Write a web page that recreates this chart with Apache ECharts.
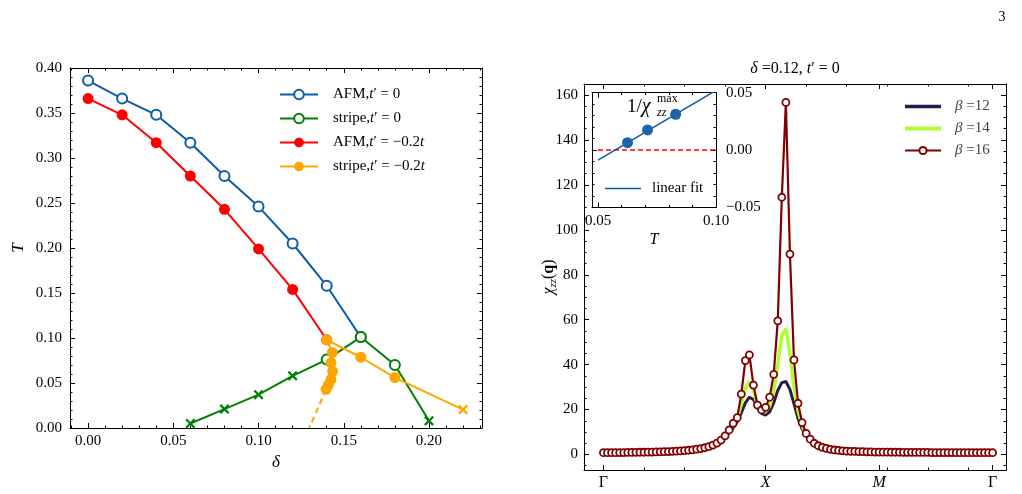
<!DOCTYPE html>
<html>
<head>
<meta charset="utf-8">
<script src="https://cdn.jsdelivr.net/npm/echarts@6/dist/echarts.min.js"></script>
<style>
  html, body { margin: 0; padding: 0; background: #fff; }
  #chart { width: 1022px; height: 494px; }
</style>
</head>
<body>
<div id="chart"></div>
<script>
// ---- left panel: T vs delta ----
const afm0Delta = [0, 0.02, 0.04, 0.06, 0.08, 0.10, 0.12, 0.14, 0.16];
const afm0T = [0.386, 0.366, 0.348, 0.317, 0.280, 0.246, 0.205, 0.158, 0.101];
const stripe0Delta = [0.06, 0.08, 0.10, 0.12, 0.14, 0.16, 0.18, 0.20];
const stripe0T = [0.005, 0.021, 0.037, 0.058, 0.076, 0.101, 0.070, 0.008];
const stripe0Cross = [true, true, true, true, false, false, false, true];
const afm2Delta = [0, 0.02, 0.04, 0.06, 0.08, 0.10, 0.12, 0.14];
const afm2T = [0.366, 0.348, 0.317, 0.280, 0.243, 0.199, 0.154, 0.098];
const stripe2Delta = [0.1396, 0.141, 0.1425, 0.1435, 0.1425, 0.1433, 0.14, 0.16, 0.18, 0.22];
const stripe2T = [0.043, 0.048, 0.054, 0.063, 0.0726, 0.084, 0.098, 0.0786, 0.056, 0.0205];
const stripe2Cross = [false, false, false, false, false, false, false, false, false, true];
const stripe2ExtDelta = [0.1396, 0.1298];
const stripe2ExtT = [0.043, 0];

const leftXTicks = [0, 0.05, 0.10, 0.15, 0.20];
const leftYTicks = [0, 0.05, 0.10, 0.15, 0.20, 0.25, 0.30, 0.35, 0.40];

// ---- right panel: chi_zz(q) along Gamma-X-M-Gamma ----
const beta12 = [0.8, 0.8, 0.8, 0.8, 0.85, 0.85, 0.9, 0.9, 0.95, 1.0, 1.0, 1.05, 1.1, 1.15, 1.2, 1.25, 1.3, 1.4, 1.5, 1.6,
  1.7, 1.85, 2.05, 2.3, 2.6, 2.9, 3.4, 4.0, 4.9, 6.0, 7.7, 9.6, 11.8, 14.5, 18.5, 23.0, 25.5, 24.5, 21.0, 18.3,
  17.5, 19.0, 23.0, 28.5, 32.0, 32.5, 29.0, 22.5, 16.0, 11.5, 8.3, 6.2, 4.7, 3.7, 3.0, 2.5, 2.15, 1.9, 1.7, 1.55,
  1.45, 1.35, 1.3, 1.25, 1.2, 1.15, 1.1, 1.05, 1.05, 1.0, 1.0, 1.0, 0.95, 0.95, 0.95, 0.9, 0.9, 0.9, 0.9, 0.9,
  0.85, 0.85, 0.85, 0.85, 0.85, 0.85, 0.8, 0.8, 0.8, 0.8, 0.8, 0.8, 0.8, 0.8, 0.8, 0.8, 0.8];
const beta14 = [0.8, 0.8, 0.8, 0.8, 0.85, 0.85, 0.9, 0.9, 0.95, 1.0, 1.0, 1.05, 1.1, 1.15, 1.2, 1.25, 1.3, 1.4, 1.5, 1.6,
  1.75, 1.9, 2.1, 2.35, 2.65, 3.0, 3.5, 4.1, 5.0, 6.2, 8.0, 10.4, 13.0, 16.0, 22.5, 29.5, 32.5, 28.5, 22.0, 19.0,
  19.0, 21.5, 28.0, 40.0, 53.0, 56.0, 45.0, 30.0, 19.5, 13.0, 9.0, 6.6, 4.9, 3.8, 3.1, 2.6, 2.2, 1.95, 1.75, 1.6,
  1.5, 1.4, 1.35, 1.3, 1.25, 1.2, 1.15, 1.1, 1.1, 1.05, 1.05, 1.0, 1.0, 1.0, 0.95, 0.95, 0.95, 0.9, 0.9, 0.9,
  0.9, 0.85, 0.85, 0.85, 0.85, 0.85, 0.85, 0.8, 0.8, 0.8, 0.8, 0.8, 0.8, 0.8, 0.8, 0.8, 0.8];
const beta16 = [0.8, 0.8, 0.8, 0.8, 0.85, 0.85, 0.9, 0.9, 0.95, 1.0, 1.0, 1.05, 1.1, 1.15, 1.2, 1.25, 1.3, 1.4, 1.5, 1.6,
  1.75, 1.9, 2.1, 2.35, 2.65, 3.0, 3.5, 4.2, 5.1, 6.4, 8.3, 10.9, 13.9, 16.4, 26.9, 41.8, 44.3, 30.9, 22.0, 19.8,
  21.0, 25.5, 35.7, 59.5, 114.5, 156.7, 89.2, 42.1, 22.8, 14.2, 9.4, 6.8, 5.0, 3.9, 3.2, 2.7, 2.3, 2.0, 1.8, 1.65,
  1.5, 1.4, 1.35, 1.3, 1.25, 1.2, 1.15, 1.1, 1.1, 1.05, 1.05, 1.0, 1.0, 1.0, 0.95, 0.95, 0.95, 0.9, 0.9, 0.9,
  0.9, 0.85, 0.85, 0.85, 0.85, 0.85, 0.85, 0.8, 0.8, 0.8, 0.8, 0.8, 0.8, 0.8, 0.8, 0.8, 0.8];
const kTickPos = [0, 40, 68, 96];
const kTickLabels = ['Γ', '{i|X}', '{i|M}', 'Γ'];
const chiTicks = [0, 20, 40, 60, 80, 100, 120, 140, 160];

// ---- inset: 1/chi_max vs T ----
const insetT = [0.0625, 0.0710, 0.0829];
const insetInvChi = [0.0064, 0.0175, 0.0312];
const fitT = [0.05, 0.10];
const fitInvChi = [-0.0088, 0.0520];
const insetXTicks = [0.05, 0.10];
const insetYTicks = [-0.05, 0, 0.05];

const FONT = 'Liberation Serif';
const BLUE = '#0C5DA5', GREEN = '#008000', RED = '#ff0000', ORANGE = '#ffa500';
const CROSS = 'path://M0,1.6L1.6,0L5,3.4L8.4,0L10,1.6L6.6,5L10,8.4L8.4,10L5,6.6L1.6,10L0,8.4L3.4,5Z';
const BAR = w => 'path://M0,0H40V' + w + 'H0Z';   // plain line legend icon
const italic = {fontFamily: FONT, fontSize: 15, fontStyle: 'italic', color: '#000'};

function steps(a, b, s, skip) {
  const out = [];
  for (let v = a; v <= b + 1e-9; v += s) {
    const r = Math.round(v * 1e6) / 1e6;
    if (!skip.some(t => Math.abs(t - r) < 1e-9)) out.push(r);
  }
  return out;
}
const fmt2 = v => (v < 0 ? '−' : '') + Math.abs(v).toFixed(2);

// four axes per dimension: labelled side + mirrored side, major and minor ticks
function frame(dim, grid, min, max, major, minor, labelSide, label, extra) {
  const sides = dim === 'x' ? ['bottom', 'top'] : ['left', 'right'];
  const other = sides[0] === labelSide ? sides[1] : sides[0];
  const ax = (side, ticks, len, line, lab) => ({
    type: 'value', gridIndex: grid, min: min, max: max, position: side,
    splitLine: {show: false},
    axisLine: {show: line, onZero: false, lineStyle: {color: '#000', width: 1}},
    axisTick: {show: true, inside: true, length: len, customValues: ticks.filter(t => t >= min && t <= max),
      lineStyle: {color: '#000', width: 1}},
    axisLabel: lab ? Object.assign({show: true, customValues: major, fontFamily: FONT, fontSize: 15, color: '#000'}, lab)
      : {show: false}
  });
  return [
    Object.assign(ax(labelSide, major, 5, true, label), extra || {}),
    ax(labelSide, minor, 2.5, false, null),
    ax(other, major, 5, true, null),
    ax(other, minor, 2.5, false, null)
  ];
}

const pts = (xs, ys) => xs.map((x, i) => [x, ys[i]]);
const marked = (xs, ys, flags, color) => xs.map((x, i) => flags[i]
  ? {value: [x, ys[i]], symbol: CROSS, symbolSize: 10, itemStyle: {color: color, borderWidth: 0}}
  : [x, ys[i]]);
const kData = ys => ys.map((v, i) => [i, v]);

const xAxes = [].concat(
  frame('x', 0, -0.0106, 0.2311, leftXTicks, steps(-0.01, 0.23, 0.01, leftXTicks), 'bottom',
    {margin: 6, formatter: fmt2},
    {name: 'δ', nameLocation: 'middle', nameGap: 26, nameTextStyle: {fontFamily: FONT, fontSize: 17, fontStyle: 'italic', color: '#000'}}),
  frame('x', 1, -4.8, 99.3, kTickPos, steps(0, 90, 10, kTickPos), 'bottom',
    {margin: 5, fontSize: 16, formatter: v => kTickLabels[kTickPos.indexOf(Math.round(v))], rich: {i: Object.assign({}, italic, {fontSize: 16})}}),
  frame('x', 2, 0.04745, 0.10, insetXTicks, steps(0.05, 0.10, 0.01, insetXTicks), 'bottom',
    {margin: 6, formatter: fmt2},
    {name: 'T', nameLocation: 'middle', nameGap: 24, nameTextStyle: {fontFamily: FONT, fontSize: 16, fontStyle: 'italic', color: '#000'}})
);
const yAxes = [].concat(
  frame('y', 0, 0, 0.4, leftYTicks, steps(0, 0.4, 0.01, leftYTicks), 'left',
    {margin: 8, formatter: fmt2},
    {name: 'T', nameLocation: 'middle', nameGap: 43, nameRotate: 90, nameTextStyle: {fontFamily: FONT, fontSize: 17, fontStyle: 'italic', color: '#000'}}),
  frame('y', 1, -6.9, 164.9, chiTicks, steps(-5, 165, 5, chiTicks), 'left',
    {margin: 6, formatter: v => String(v)},
    {name: '{i|χ}{s|zz}({b|q})', nameLocation: 'middle', nameGap: 25, nameRotate: 90, nameMoveOverlap: false,
      nameTextStyle: {fontFamily: FONT, fontSize: 16, color: '#000', rich: {
        i: {fontFamily: FONT, fontSize: 16, fontStyle: 'italic', color: '#000', lineHeight: 20},
        s: {fontFamily: FONT, fontSize: 11, fontStyle: 'italic', color: '#000', verticalAlign: 'bottom', lineHeight: 20, padding: [8, 0, 0, 0]},
        b: {fontFamily: FONT, fontSize: 16, fontWeight: 'bold', color: '#000', lineHeight: 20}}}}),
  frame('y', 2, -0.05, 0.05, insetYTicks, steps(-0.05, 0.05, 0.01, insetYTicks), 'right',
    {margin: 10, formatter: fmt2})
);

const leftNames = {
  'AFM,t′ = 0': 'AFM,{i|t}′ = 0',
  'stripe,t′ = 0': 'stripe,{i|t}′ = 0',
  'AFM,t′ = −0.2t': 'AFM,{i|t}′ = −0.2{i|t}',
  'stripe,t′ = −0.2t': 'stripe,{i|t}′ = −0.2{i|t}'
};
const betaNames = ['β =12', 'β =14', 'β =16'];

const option = {
  animation: false,
  backgroundColor: '#fff',
  grid: [
    {left: 70, right: 540, top: 68, bottom: 66, outerBoundsMode: 'none'},
    {left: 584, right: 16, top: 84, bottom: 24, outerBoundsMode: 'none'},
    {left: 592, width: 124, top: 92.7, height: 114.6, show: true, backgroundColor: '#fff', borderWidth: 0, z: 3, outerBoundsMode: 'none'}
  ],
  xAxis: xAxes.map((a, i) => i >= 8 ? Object.assign(a, {z: 4}) : a),
  yAxis: yAxes.map((a, i) => i >= 8 ? Object.assign(a, {z: 4}) : a),
  legend: [
    {data: Object.keys(leftNames), orient: 'vertical', left: 274, top: 81, itemWidth: 38, itemHeight: 12,
      itemGap: 7, formatter: n => leftNames[n],
      textStyle: {fontFamily: FONT, fontSize: 15, color: '#000', lineHeight: 17, padding: [0, 0, 0, 10], rich: {i: italic}}},
    {data: [{name: betaNames[0], icon: BAR(4)}, {name: betaNames[1], icon: BAR(4.4)}, betaNames[2]],
      orient: 'vertical', left: 899, top: 93, itemWidth: 36, itemHeight: 9,
      itemGap: 5, formatter: n => '{i|β}' + n.slice(1),
      textStyle: {fontFamily: FONT, fontSize: 15, color: '#444', lineHeight: 17, padding: [0, 0, 0, 9],
        rich: {i: Object.assign({}, italic, {color: '#444'})}}},
    {data: [{name: 'linear fit', icon: BAR(1.8)}], orient: 'vertical', left: 600, top: 176, itemWidth: 36, itemHeight: 10, z: 5,
      textStyle: {fontFamily: FONT, fontSize: 15, color: '#000', padding: [0, 0, 0, 6]}}
  ],
  series: [
    {name: 'AFM,t′ = 0', type: 'line', xAxisIndex: 0, yAxisIndex: 0, data: pts(afm0Delta, afm0T),
      symbol: 'circle', symbolSize: 10, lineStyle: {color: BLUE, width: 2},
      itemStyle: {color: '#fff', borderColor: BLUE, borderWidth: 2}},
    {name: 'stripe,t′ = 0', type: 'line', xAxisIndex: 0, yAxisIndex: 0, data: marked(stripe0Delta, stripe0T, stripe0Cross, GREEN),
      symbol: 'circle', symbolSize: 10, lineStyle: {color: GREEN, width: 2},
      itemStyle: {color: '#fff', borderColor: GREEN, borderWidth: 2}},
    {name: 'AFM,t′ = −0.2t', type: 'line', xAxisIndex: 0, yAxisIndex: 0, data: pts(afm2Delta, afm2T),
      symbol: 'circle', symbolSize: 11, lineStyle: {color: RED, width: 2}, itemStyle: {color: RED}},
    {name: 'stripe,t′ = −0.2t', type: 'line', xAxisIndex: 0, yAxisIndex: 0, data: marked(stripe2Delta, stripe2T, stripe2Cross, ORANGE),
      symbol: 'circle', symbolSize: 11, lineStyle: {color: ORANGE, width: 2}, itemStyle: {color: ORANGE}},
    {name: 'stripe extrapolation', type: 'line', xAxisIndex: 0, yAxisIndex: 0, data: pts(stripe2ExtDelta, stripe2ExtT),
      symbol: 'none', lineStyle: {color: ORANGE, width: 2, type: [6, 4]}},

    {name: 'β =12', type: 'line', xAxisIndex: 4, yAxisIndex: 4, data: kData(beta12),
      symbol: 'none', lineStyle: {color: '#2c1b47', width: 3}, itemStyle: {color: '#2c1b47'}},
    {name: 'β =14', type: 'line', xAxisIndex: 4, yAxisIndex: 4, data: kData(beta14),
      symbol: 'none', lineStyle: {color: '#adff2f', width: 3.5}, itemStyle: {color: '#adff2f'}},
    {name: 'β =16', type: 'line', xAxisIndex: 4, yAxisIndex: 4, data: kData(beta16),
      symbol: 'circle', symbolSize: 7, lineStyle: {color: '#800000', width: 2.2},
      itemStyle: {color: '#fff', borderColor: '#800000', borderWidth: 1.8}},

    {name: 'zero', type: 'line', xAxisIndex: 8, yAxisIndex: 8, data: [[0.05, 0], [0.10, 0]], z: 6,
      symbol: 'none', lineStyle: {color: RED, width: 1.5, type: [5, 3]}},
    {name: 'linear fit', type: 'line', xAxisIndex: 8, yAxisIndex: 8, data: pts(fitT, fitInvChi), z: 6,
      symbol: 'none', lineStyle: {color: BLUE, width: 1.5}, itemStyle: {color: BLUE}},
    {name: 'inv chi max', type: 'line', xAxisIndex: 8, yAxisIndex: 8, data: pts(insetT, insetInvChi), z: 7,
      symbol: 'circle', symbolSize: 11, lineStyle: {width: 0}, itemStyle: {color: '#1f63a8'}}
  ],
  graphic: [
    {type: 'text', x: 1002, y: 17, style: {text: '3', font: '14px "Liberation Serif"', fill: '#000', align: 'center', verticalAlign: 'middle'}},
    {type: 'text', x: 795, y: 69, style: {text: '{i|δ} =0.12, {i|t}′ = 0', font: '16px "Liberation Serif"', fill: '#000',
      align: 'center', verticalAlign: 'middle', rich: {i: {fontFamily: FONT, fontSize: 16, fontStyle: 'italic', fill: '#000'}}}},
    {type: 'text', x: 627, y: 107, z: 5, style: {text: '1/{i|χ}', font: '19px "Liberation Serif"', fill: '#000', verticalAlign: 'middle',
      rich: {i: {fontFamily: FONT, fontSize: 20, fontStyle: 'italic', fill: '#000'}}}},
    {type: 'text', x: 657, y: 99, z: 5, style: {text: 'max', font: '12px "Liberation Serif"', fill: '#000', verticalAlign: 'middle'}},
    {type: 'text', x: 657, y: 113, z: 5, style: {text: 'zz', font: 'italic 12px "Liberation Serif"', fill: '#000', verticalAlign: 'middle'}}
  ]
};

const chart = echarts.init(document.getElementById('chart'));
chart.setOption(option);
</script>
</body>
</html>
